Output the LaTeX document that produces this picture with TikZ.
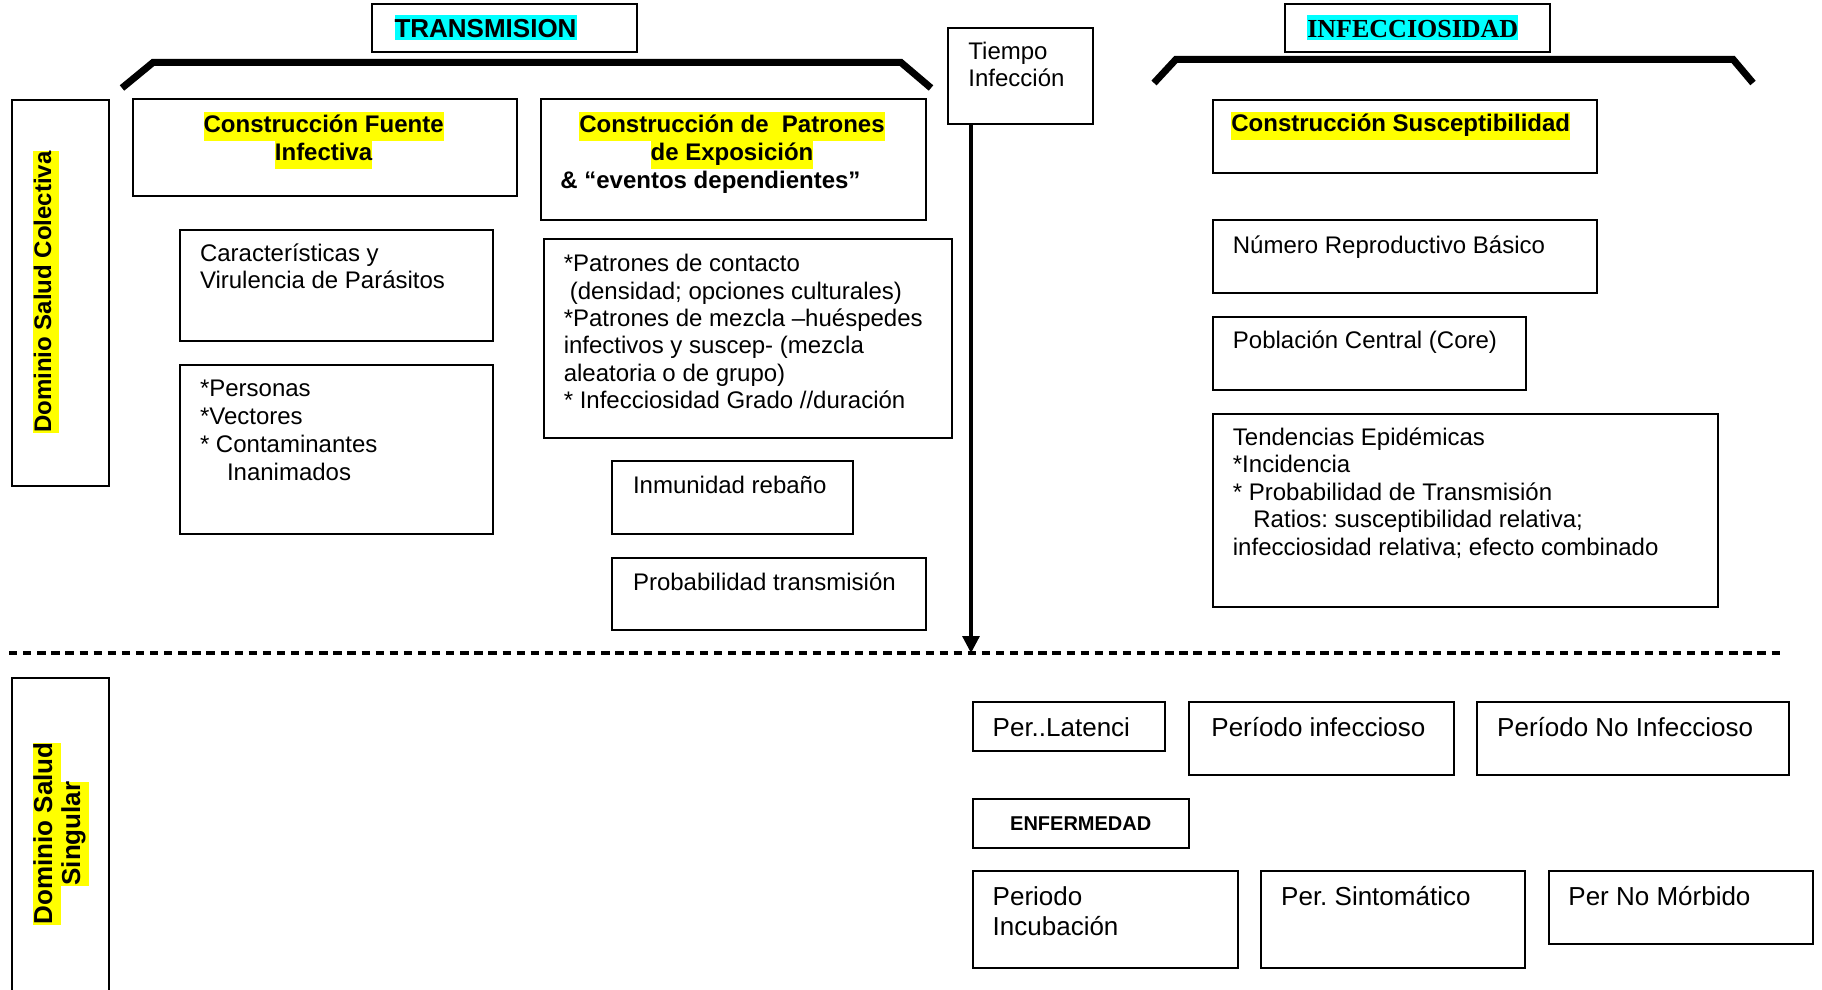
\documentclass[tikz,border=0pt]{standalone}
\usepackage{fontspec}
\setmainfont{Liberation Sans}
\newfontfamily\romana{Liberation Serif}
\usepackage{tikz}
\usetikzlibrary{arrows.meta}
\frenchspacing

\definecolor{amarillo}{RGB}{255,255,0}
\definecolor{celeste}{RGB}{0,255,255}
\newcommand{\resaltar}[2]{{\setlength{\fboxsep}{0pt}\colorbox{#1}{\strut #2}}}
\newcommand{\resaltartitulo}[1]{{\setlength{\fboxsep}{0pt}\colorbox{celeste}{\rule[-1pt]{0pt}{12.2pt}#1}}}

\tikzset{
    caja/.style={draw=black, line width=1pt, inner sep=0pt, anchor=north west},
    texto/.style={inner sep=0pt, anchor=base west, align=left,
        font=\fontsize{12}{13.65}\selectfont},
    textogrande/.style={inner sep=0pt, anchor=base west, align=left,
        font=\fontsize{13}{14.65}\selectfont},
    encabezado/.style={inner sep=0pt, align=center,
        font=\fontsize{12}{14.3}\selectfont\bfseries},
    titulo/.style={inner sep=0pt, anchor=base, font=\fontsize{13}{13}\selectfont\bfseries},
    dominio/.style={inner sep=0pt, rotate=90, align=center,
        font=\fontsize{12}{13}\selectfont\bfseries},
    llave/.style={draw=black, line width=3.5pt},
    divisoria/.style={draw=black, line width=1.6pt, dash pattern=on 4.15pt off 2.9pt},
    flecha/.style={draw=black, line width=1.6pt, -{Triangle[length=8.5pt,width=8.5pt]}},
}

\begin{document}
\begin{tikzpicture}[x=0.5pt, y=0.5pt]
	\useasboundingbox (0,0) rectangle (1822,-990);
	\clip (0,0) rectangle (1822,-990);
	% titulos
	\node[caja, minimum width=132.5pt, minimum height=24pt] (transmision) at (371,-3) {};
	\node[titulo] (transmisionT) at (485.5,-37.7) {\resaltartitulo{TRANSMISION}};
	\node[caja, minimum width=132.5pt, minimum height=24pt] (infecc) at (1284,-3) {};
	\node[titulo, font=\fontsize{13}{13}\selectfont\romana\bfseries] (infeccT) at (1412.8,-37.7) {\resaltartitulo{INFECCIOSIDAD}};
	\draw[llave] (122,-88) -- (153,-62.5) -- (901,-62.5) -- (931,-88);
	\draw[llave] (1154,-83) -- (1176,-59.3) -- (1733,-59.3) -- (1753,-83);
	\node[caja, minimum width=72.5pt, minimum height=48pt] (tiempo) at (947,-27) {};
	\node[texto, font=\fontsize{12}{13.5}\selectfont] (tiempoT) at (968,-87) {Tiempo\\Infección};

	% dominio colectivo
	\node[caja, minimum width=48.5pt, minimum height=193pt] (colectiva) at (11,-99) {};
	\node[dominio] (colectivaT) at (46,-292) {\resaltar{amarillo}{Dominio Salud Colectiva}};

	\node[caja, minimum width=192pt, minimum height=48.25pt] (fuente) at (131.5,-98.5) {};
	\node[encabezado] (fuenteT) at (323.6,-140.6) {\resaltar{amarillo}{Construcción Fuente}\\\resaltar{amarillo}{Infectiva}};
	\node[caja, minimum width=156.5pt, minimum height=55.75pt] (caracteristicas) at (179,-228.5) {};
	\node[texto] (caracteristicasT) at (199.6,-288.3) {Características y\\Virulencia de Parásitos};
	\node[caja, minimum width=156.5pt, minimum height=84.5pt] (personas) at (179,-364) {};
	\node[texto, font=\fontsize{12}{13.9}\selectfont] (personasT) at (199.6,-480) {*Personas\\*Vectores\\* Contaminantes\\\hspace*{13.5pt}Inanimados};

	\node[caja, minimum width=192.25pt, minimum height=60.5pt] (patrones) at (540,-98.5) {};
	\node[encabezado] (patronesT) at (732,-140.6) {\resaltar{amarillo}{Construcción de\ \ Patrones}\\\resaltar{amarillo}{de Exposición}};
	\node[texto, font=\fontsize{12}{13.65}\selectfont\bfseries] (eventosT) at (560,-188.5) {\& “eventos dependientes”};
	\node[caja, minimum width=204.25pt, minimum height=99.75pt] (contacto) at (542.5,-237.5) {};
	\node[texto] (contactoT) at (563.4,-408.3) {*Patrones de contacto\\\hspace*{3pt}(densidad; opciones culturales)\\*Patrones de mezcla –huéspedes\\infectivos y suscep- (mezcla\\aleatoria o de grupo)\\* Infecciosidad Grado //duración};
	\node[caja, minimum width=120.5pt, minimum height=36.5pt] (inmunidad) at (611,-460) {};
	\node[texto] (inmunidadT) at (632.6,-493.3) {Inmunidad rebaño};
	\node[caja, minimum width=156.75pt, minimum height=36pt] (probabilidad) at (611,-557) {};
	\node[texto] (probabilidadT) at (632.6,-590) {Probabilidad transmisión};

	\node[caja, minimum width=192pt, minimum height=36.5pt] (suscept) at (1212,-99) {};
	\node[encabezado, anchor=base west] (susceptT) at (1231,-131.7) {\resaltar{amarillo}{Construcción Susceptibilidad}};
	\node[caja, minimum width=192pt, minimum height=36.5pt] (numero) at (1212,-219) {};
	\node[texto] (numeroT) at (1232.5,-253.3) {Número Reproductivo Básico};
	\node[caja, minimum width=156.5pt, minimum height=36.25pt] (poblacion) at (1212,-316) {};
	\node[texto] (poblacionT) at (1232.5,-348.3) {Población Central (Core)};
	\node[caja, minimum width=252.5pt, minimum height=96.75pt] (tendencias) at (1212,-412.5) {};
	\node[texto, font=\fontsize{12}{13.75}\selectfont] (tendenciasT) at (1232.5,-555) {Tendencias Epidémicas\\*Incidencia\\* Probabilidad de Transmisión\\\hspace*{10.25pt}Ratios: susceptibilidad relativa;\\infecciosidad relativa; efecto combinado};

	% division y tiempo
	\coordinate (izq) at (9,-653);
	\coordinate (der) at (1784,-653);
	\coordinate (corte) at (971,-653);
	\draw[divisoria] (izq) -- (der);
	\draw[flecha] (tiempo.south -| corte) -- (corte);

	% dominio singular
	\node[caja, minimum width=48.5pt, minimum height=161.5pt] (singular) at (11,-677) {};
	\node[dominio, font=\fontsize{13}{14}\selectfont\bfseries] (singularT) at (60.5,-833.5) {\resaltar{amarillo}{Dominio Salud}\\\resaltar{amarillo}{Singular}};

	\node[caja, minimum width=96.25pt, minimum height=24.5pt] (latencia) at (971.5,-701) {};
	\node[textogrande] (latenciaT) at (992.3,-736.7) {Per..Latenci};
	\node[caja, minimum width=132.5pt, minimum height=36.5pt] (infeccioso) at (1187.5,-701) {};
	\node[textogrande] (infecciosoT) at (1211,-736.7) {Período infeccioso};
	\node[caja, minimum width=156.25pt, minimum height=36.5pt] (noinfeccioso) at (1475.5,-701) {};
	\node[textogrande] (noinfecciosoT) at (1496.8,-736.7) {Período No Infeccioso};
	\node[caja, minimum width=108.25pt, minimum height=24.25pt, font=\fontsize{10}{12}\selectfont\bfseries] (enfermedad) at (971.5,-798) {ENFERMEDAD};
	\node[caja, minimum width=132.5pt, minimum height=48.5pt] (incubacion) at (971.5,-870) {};
	\node[textogrande] (incubacionT) at (992.3,-935) {Periodo\\Incubación};
	\node[caja, minimum width=132.25pt, minimum height=48.5pt] (sintomatico) at (1259.5,-870) {};
	\node[textogrande] (sintomaticoT) at (1280.8,-905.7) {Per. Sintomático};
	\node[caja, minimum width=132.25pt, minimum height=36.75pt] (nomorbido) at (1547.5,-869.5) {};
	\node[textogrande] (nomorbidoT) at (1568,-905) {Per No Mórbido};
\end{tikzpicture}
\end{document}
